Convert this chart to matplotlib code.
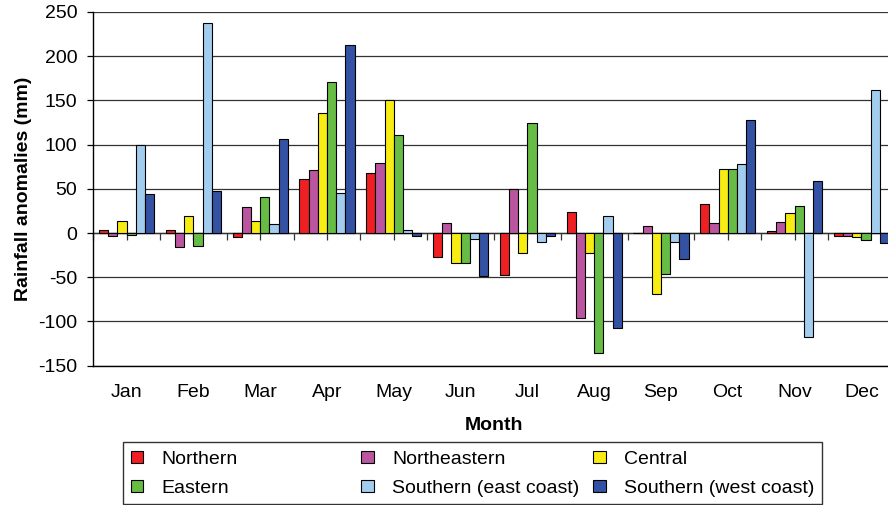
import numpy as np
import matplotlib
matplotlib.use("Agg")
import matplotlib.pyplot as plt
from matplotlib.patches import Rectangle, Patch

plt.rcParams['font.family'] = ['Liberation Sans', 'DejaVu Sans']

months = ["Jan", "Feb", "Mar", "Apr", "May", "Jun", "Jul", "Aug", "Sep", "Oct", "Nov", "Dec"]
series_names = ["Northern", "Northeastern", "Central", "Eastern",
                "Southern (east coast)", "Southern (west coast)"]
northern     = [3, 3, -4, 61, 68, -27, -47, 24, 0, 33, 2, -3]
northeastern = [-3, -16, 29, 71, 79, 11, 50, -96, 8, 11, 13, -3]
central      = [14, 19, 14, 136, 150, -34, -23, -22, -69, 73, 23, -5]
eastern      = [-2, -15, 41, 171, 111, -34, 125, -136, -46, 73, 31, -8]
south_east   = [100, 238, 10, 45, 3, -7, -10, 19, -10, 78, -117, 162]
south_west   = [44, 48, 106, 213, -3, -49, -3, -107, -29, 128, 59, -11]
series = [northern, northeastern, central, eastern, south_east, south_west]
colors = ["#EE2024", "#BB55A0", "#F7EC13", "#67BC45", "#A2CDEE", "#3452A4"]
yticks = [-150, -100, -50, 0, 50, 100, 150, 200, 250]

FS = 14
W, H = 888, 505
fig = plt.figure(figsize=(W / 100, H / 100), dpi=100)
left, right, top, bottom = 93.3, 894.7, 12.0, 365.7
ax = fig.add_axes([left / W, 1 - bottom / H, (right - left) / W, (bottom - top) / H])

x = np.arange(len(months))
bw = 0.138
n = len(series)
for i, (vals, c, name) in enumerate(zip(series, colors, series_names)):
    ax.bar(x + (i - (n - 1) / 2) * bw, vals, width=bw, color=c,
           edgecolor="black", linewidth=0.8, label=name, zorder=3)

ax.set_xlim(-0.5, len(months) - 0.5)
ax.set_ylim(-150, 250)
ax.set_yticks(yticks)
ax.set_yticklabels([str(v) for v in yticks], fontsize=FS)
ax.yaxis.grid(True, color="#333333", linewidth=0.9, zorder=0)
ax.set_axisbelow(True)
ax.tick_params(axis="y", length=4.5, width=0.9, pad=7)
ax.set_xticks(x)
ax.set_xticklabels(months, fontsize=FS)
ax.tick_params(axis="x", length=0, pad=13)
for s in ["top", "right"]:
    ax.spines[s].set_visible(False)
ax.spines["left"].set_linewidth(1.0)
ax.spines["bottom"].set_linewidth(1.0)

# zero line with tick marks
zero_pos = (0 - (-150)) / (250 - (-150))
sec = ax.secondary_xaxis(zero_pos)
sec.set_xticks(np.arange(-0.5, len(months), 0.5))
sec.set_xticklabels([])
sec.tick_params(axis="x", length=5, width=0.9, color="#333333")
sec.spines["bottom"].set_color("#555555")
sec.spines["bottom"].set_linewidth(1.0)

ax.set_ylabel("Rainfall anomalies (mm)", fontsize=FS, fontweight="bold", labelpad=4.5)
ax.set_xlabel("Month", fontsize=FS, fontweight="bold", labelpad=12)

# legend: 3 columns, equal column pitch
handles = [Patch(facecolor=c, edgecolor="black", linewidth=0.8) for c in colors]
col_x = [130.7, 361.0, 593.0]
for k in range(3):
    hh = [handles[k], handles[k + 3]]
    ll = [series_names[k], series_names[k + 3]]
    fig.legend(hh, ll, loc="upper left",
               bbox_to_anchor=(col_x[k] / W, 1 - 450.5 / H),
               frameon=False, fontsize=FS, handlelength=0.65, handleheight=0.62,
               handletextpad=0.94, labelspacing=0.62, borderpad=0, borderaxespad=0)
fig.patches.append(Rectangle((123.3 / W, 1 - 504 / H), (822 - 123.3) / W, (504 - 441.7) / H,
                             transform=fig.transFigure, fill=False, edgecolor="#333333",
                             linewidth=1.0))

fig.savefig("out.png", dpi=100)
